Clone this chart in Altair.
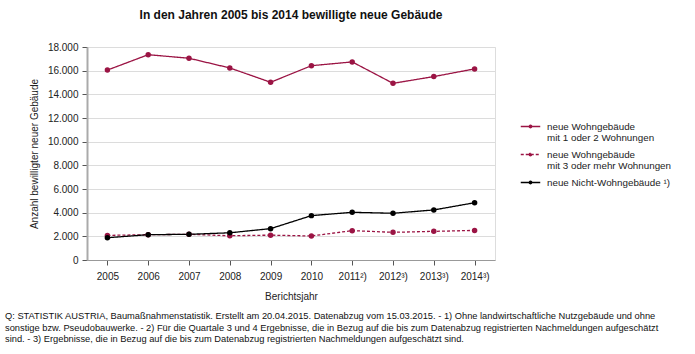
import altair as alt
import pandas as pd

years = ["2005", "2006", "2007", "2008", "2009", "2010", "2011²)", "2012³)", "2013³)", "2014³)"]
series_names = [
    "neue Wohngebäude|mit 1 oder 2 Wohnungen",
    "neue Wohngebäude|mit 3 oder mehr Wohnungen",
    "neue Nicht-Wohngebäude ¹)",
]
wohn_1_2 = [16050, 17350, 17050, 16230, 15020, 16420, 16740, 14930, 15500, 16150]
wohn_3plus = [2080, 2140, 2170, 2050, 2100, 2030, 2480, 2340, 2420, 2500]
nicht_wohn = [1880, 2140, 2170, 2300, 2650, 3750, 4030, 3950, 4230, 4840]
y_ticks = [0, 2000, 4000, 6000, 8000, 10000, 12000, 14000, 16000, 18000]

title = "In den Jahren 2005 bis 2014 bewilligte neue Gebäude"
y_title = "Anzahl bewilligter neuer Gebäude"
x_title = "Berichtsjahr"
footnote = [
    "Q: STATISTIK AUSTRIA, Baumaßnahmenstatistik. Erstellt am 20.04.2015. Datenabzug vom 15.03.2015.  - 1) Ohne  landwirtschaftliche Nutzgebäude und ohne",
    "sonstige bzw. Pseudobauwerke. - 2) Für die Quartale 3 und 4 Ergebnisse, die in Bezug auf die bis zum Datenabzug registrierten Nachmeldungen aufgeschätzt",
    "sind. - 3) Ergebnisse, die in Bezug auf die bis zum Datenabzug registrierten Nachmeldungen aufgeschätzt sind.",
]

rows = []
for name, vals in zip(series_names, [wohn_1_2, wohn_3plus, nicht_wohn]):
    for y, v in zip(years, vals):
        rows.append({"Jahr": y, "Wert": v, "Serie": name})
df = pd.DataFrame(rows)

FONT = "Liberation Sans"
RED = "#9b1444"
BLACK = "#000000"

sym = "M-1,0H1M-0.12,0a0.12,0.12 0 1,0 0.24,0a0.12,0.12 0 1,0 -0.24,0"

color = alt.Color(
    "Serie:N",
    scale=alt.Scale(domain=series_names, range=[RED, RED, BLACK]),
    sort=series_names,
    legend=alt.Legend(
        title=None,
        orient="none",
        legendX=433,
        legendY=69,
        symbolType=sym,
        symbolSize=380,
        symbolStrokeWidth=1.5,
        labelFont=FONT,
        labelFontSize=9.8,
        labelColor="#222",
        labelExpr="split(datum.label, '|')",
        rowPadding=-2,
        labelOffset=6,
        labelLimit=300,
    ),
)
dash = alt.StrokeDash(
    "Serie:N",
    scale=alt.Scale(domain=series_names, range=[[1, 0], [3, 2], [1, 0]]),
    sort=series_names,
    legend=None,
)

x = alt.X(
    "Jahr:O",
    sort=years,
    scale=alt.Scale(type="point", padding=0.5),
    title=x_title,
    axis=alt.Axis(
        labelAngle=0,
        labelFont=FONT,
        labelFontSize=10,
        labelColor="#222",
        labelPadding=6,
        titleFont=FONT,
        titleFontSize=10,
        titleFontWeight="normal",
        titleColor="#222",
        titlePadding=10,
        tickColor="#555",
        tickSize=5,
        domainColor="#999",
        domainWidth=1,
        grid=False,
    ),
)
y = alt.Y(
    "Wert:Q",
    scale=alt.Scale(domain=[0, 18000], nice=False),
    title=y_title,
    axis=alt.Axis(
        values=y_ticks,
        tickCount=10,
        labelExpr="replace(format(datum.value, ','), ',', '.')",
        labelOverlap=False,
        labelFont=FONT,
        labelFontSize=10,
        labelColor="#222",
        labelPadding=4,
        titleFont=FONT,
        titleFontSize=10,
        titleFontWeight="normal",
        titleColor="#222",
        titlePadding=8,
        tickColor="#555",
        tickSize=5,
        domainColor="#aaa",
        domainWidth=2,
        gridColor="#dcdcdc",
        gridWidth=1,
    ),
)

lines = alt.Chart(df).mark_line(strokeWidth=1.3).encode(
    x=x, y=y, color=color, strokeDash=dash, detail="Serie:N"
)
points = alt.Chart(df).mark_point(filled=True, size=30, opacity=1).encode(
    x=x, y=y,
    color=alt.Color("Serie:N", scale=alt.Scale(domain=series_names, range=[RED, RED, BLACK]), legend=None),
)

fn_df = pd.DataFrame({"txt": ["\n".join(footnote)]})
foot = alt.Chart(fn_df).mark_text(
    font=FONT, fontSize=9.3, align="left", baseline="top", color="#111",
    lineBreak="\n", lineHeight=11.5,
).encode(
    text="txt:N",
    x=alt.value(-82),
    y=alt.value(265),
)

chart = alt.layer(lines, points, foot).properties(
    width=408,
    height=213,
    padding={"left": 87, "top": 47, "right": 200, "bottom": 94},
    autosize=alt.AutoSizeParams(type="none"),
    title=alt.TitleParams(
        title, font=FONT, fontSize=12, fontWeight="bold", color="#111", anchor="middle", offset=20
    ),
).configure_view(stroke="#aaa", strokeWidth=2).configure(background="white")

chart.save("out.html", embed_options={"renderer": "svg", "actions": False})
